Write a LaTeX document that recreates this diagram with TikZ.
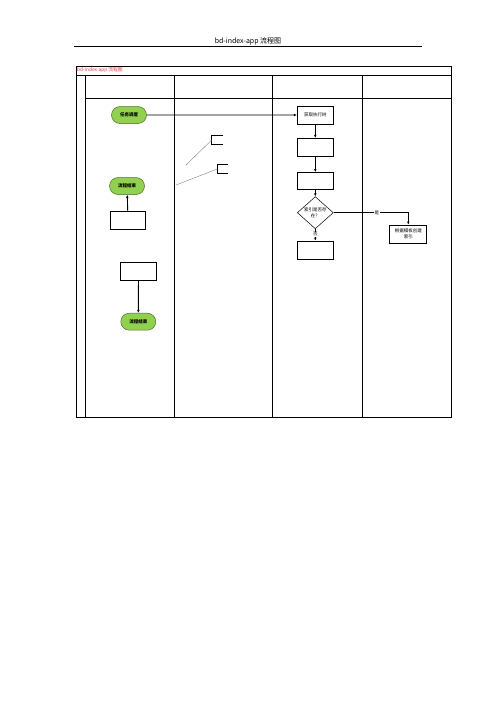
\documentclass[tikz,border=0pt]{standalone}
\usepackage{fontspec}
\setmainfont{Noto Sans CJK SC}
\usepackage{tikz}
\usetikzlibrary{arrows.meta,positioning,calc,shapes.misc,shapes.geometric}

\definecolor{termfill}{RGB}{146,208,80}
\definecolor{termline}{RGB}{80,110,40}
\definecolor{titlered}{RGB}{230,60,70}

\tikzset{
  lane/.style={line width=1pt},
  term/.style={rounded rectangle,draw=termline,fill=termfill,line width=0.5pt,
    minimum width=35pt,minimum height=17pt,inner sep=0pt,font=\fontsize{4.5}{5}\selectfont\bfseries},
  procbox/.style={rectangle,draw,line width=0.8pt,minimum width=36pt,minimum height=18pt,
    inner sep=0pt,align=center,font=\fontsize{4.5}{5.5}\selectfont},
  decide/.style={diamond,draw,line width=0.5pt,minimum width=36pt,minimum height=19pt,
    inner sep=0pt,align=center,font=\fontsize{4.5}{5.5}\selectfont},
  flow/.style={line width=0.9pt,-{Latex[length=3pt,width=2.6pt]}},
  note/.style={gray,line width=0.4pt},
  lbl/.style={fill=white,inner sep=0.5pt,font=\fontsize{4.5}{5}\selectfont}
}

\begin{document}
\begin{tikzpicture}[x=1pt,y=-1pt]
\useasboundingbox (0,0) rectangle (496,702);

% page header
\node (head) at (248,41.5) {\fontsize{7}{8}\selectfont bd-index-app 流程图};
\draw[line width=0.6pt] (74,46) -- (422,46);

% swimlane table
\draw[lane] (76,66) rectangle (451,417);
\draw[lane] (76,75) -- (451,75);
\draw[lane] (85,98) -- (451,98);
\draw[lane] (85,75) -- (85,417);
\draw[lane] (174,75) -- (174,417);
\draw[lane] (272,75) -- (272,417);
\draw[lane] (362,75) -- (362,417);
\node[anchor=west,text=titlered,inner sep=0pt] (tabtitle) at (77,70.5) {\fontsize{4.8}{5}\selectfont bd-index-app 流程图};

% first lane
\node[term] (sched) at (129,115) {任务调度};
\node[term] (end1) at (127,186) {流程结束};
\node[procbox,minimum width=35pt] (box1) at (128,220.5) {};
\node[procbox] (box2) at (138.5,271.3) {};
\node[term] (end2) at (138.3,321.7) {流程结束};

% third lane
\node[procbox] (tree) at (315.3,115) {获取执行树};
\node[procbox] (box3) at (315.3,147.3) {};
\node[procbox,minimum height=17pt] (box4) at (315.3,181) {};
\node[decide] (exists) at (315.3,212.7) {索引是否存\\在？};
\node[procbox] (box5) at (315.3,250) {};

% fourth lane
\node[procbox,minimum width=37pt] (create) at (408.3,234) {根据模板创建\\索引};

% connectors
\draw[flow] (sched) -- (tree);
\draw[flow] (tree) -- (box3);
\draw[flow] (box3) -- (box4);
\draw[flow] (box4) -- (exists);
\draw[flow] (exists) -- node[lbl,pos=0.45] {否} (box5);
\draw[flow] (exists.east) -| node[lbl,pos=0.29] {是} (create.north);
\draw[flow] (box1) -- (end1);
\draw[flow] (box2) -- (end2);

% annotations in second lane
\coordinate (n1) at (211.7,140);
\coordinate (n2) at (217.3,169);
\draw[line width=0.8pt] (222.7,135.7) -- (211.7,135.7) -- (211.7,144.3) -- (222.7,144.3);
\draw[line width=0.8pt] (228.3,164.3) -- (217.3,164.3) -- (217.3,173.7) -- (228.3,173.7);
\draw[note] (186,165) -- (n1);
\draw[note] (176,185) -- (n2);
\end{tikzpicture}
\end{document}
